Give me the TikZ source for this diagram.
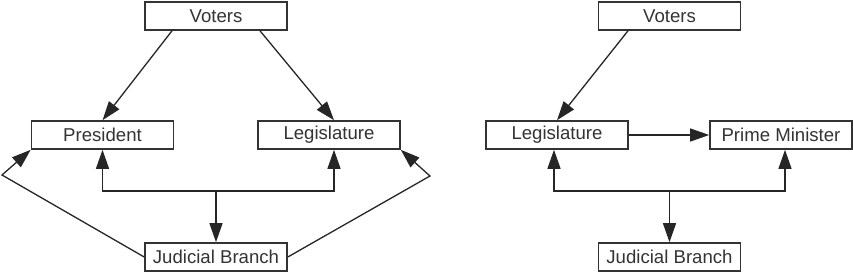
\documentclass[tikz,border=0pt]{standalone}
\usepackage{fontspec}
\setmainfont{Liberation Sans}
\usetikzlibrary{arrows.meta,positioning}

\begin{document}
\begin{tikzpicture}[>={Triangle[length=9.5pt,width=6.5pt]}, x=0.5pt, y=-0.5pt,
    branch/.style={draw=black!80, line width=0.8pt, minimum width=71pt, minimum height=14pt,
        inner sep=0pt, text=black!80, font=\fontsize{9.3pt}{11pt}\selectfont},
    link/.style={draw=black!85, line width=0.65pt}]
\useasboundingbox (0,0) rectangle (853,274);

% presidential system
\node[branch] (votL) at (216,16) {Voters};
\node[branch] (pres) at (102.5,135) {President};
\node[branch] (legL) at (329,135) {Legislature};
\node[branch] (judL) at (216,257) {Judicial Branch};
\coordinate (busL) at (216,191);
\coordinate (outL) at (2,175);
\coordinate (outR) at (430,176);

\draw[link,->] ([xshift=-22pt]votL.south) -- (pres.north);
\draw[link,->] ([xshift=22pt]votL.south) -- ([xshift=2.5pt]legL.north);
\draw[link,<->] (pres.south) -- (pres.south |- busL) -- ([xshift=2.5pt]legL.south |- busL) -- ([xshift=2.5pt]legL.south);
\draw[link,->] (busL) -- (judL.north);
\draw[link,->] (judL.west) -- (outL) -- (pres.south west);
\draw[link,->] (judL.east) -- (outR) -- (legL.south east);

% parliamentary system
\node[branch] (votR) at (669.5,16) {Voters};
\node[branch] (legR) at (557,135) {Legislature};
\node[branch] (prime) at (781,135) {Prime Minister};
\node[branch] (judR) at (669.5,257) {Judicial Branch};
\coordinate (busR) at (669.5,191);

\draw[link,->] ([xshift=-20.75pt]votR.south) -- (legR.north);
\draw[link,->] (legR.east) -- (prime.west);
\draw[link,<->] ([xshift=-1.5pt]legR.south) -- ([xshift=-1.5pt]legR.south |- busR) -- ([xshift=2pt]prime.south |- busR) -- ([xshift=2pt]prime.south);
\draw[link,->] (busR) -- (judR.north);
\end{tikzpicture}
\end{document}
